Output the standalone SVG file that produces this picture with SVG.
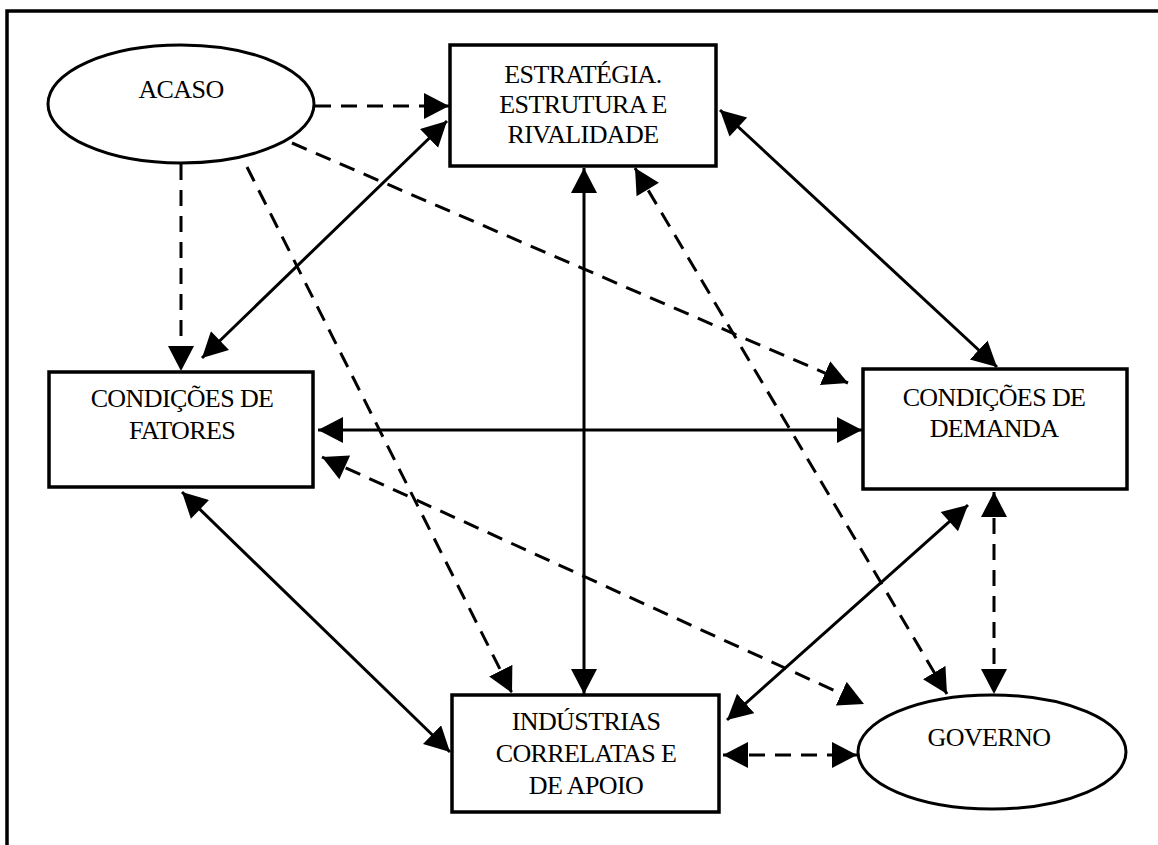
<svg xmlns="http://www.w3.org/2000/svg" width="1158" height="845" viewBox="0 0 1158 845">
<style>
.box{fill:#fff;stroke:#000;stroke-width:3.5}
.ell{fill:#fff;stroke:#000;stroke-width:3}
.t{font-family:"Liberation Serif","Times New Roman",serif;font-size:26px;letter-spacing:-0.6px;fill:#000;text-anchor:middle}
.s{stroke:#000;stroke-width:3;fill:none}
.d{stroke:#000;stroke-width:3;fill:none;stroke-dasharray:16 10}
</style>
<defs>
<marker id="ae" markerUnits="userSpaceOnUse" markerWidth="28" markerHeight="28" refX="25" refY="13" orient="auto">
<path d="M0,0 L25,13 L0,26 Z" fill="#000"/>
</marker>
<marker id="as" markerUnits="userSpaceOnUse" markerWidth="28" markerHeight="28" refX="0" refY="13" orient="auto">
<path d="M25,0 L0,13 L25,26 Z" fill="#000"/>
</marker>
</defs>
<rect width="1158" height="845" fill="#fff"/>
<g id="frame">
<path d="M7,845 L7,11 L1158,11" fill="none" stroke="#000" stroke-width="3.5"/>
</g>
<g id="connectors">
<line class="d" x1="315" y1="106" x2="449" y2="106" marker-end="url(#ae)"/>
<line class="d" x1="181" y1="164" x2="181" y2="371" marker-end="url(#ae)"/>
<line class="d" x1="292" y1="143" x2="848" y2="383" marker-end="url(#ae)"/>
<line class="d" x1="247" y1="167" x2="512" y2="693" marker-end="url(#ae)"/>
<line class="s" x1="202" y1="358" x2="447" y2="121" marker-start="url(#as)" marker-end="url(#ae)"/>
<line class="s" x1="720" y1="110" x2="997" y2="367" marker-start="url(#as)" marker-end="url(#ae)"/>
<line class="s" x1="584" y1="168" x2="584" y2="694" marker-start="url(#as)" marker-end="url(#ae)"/>
<line class="d" x1="635" y1="168" x2="947" y2="694" marker-start="url(#as)" marker-end="url(#ae)"/>
<line class="s" x1="318" y1="430" x2="862" y2="430" marker-start="url(#as)" marker-end="url(#ae)"/>
<line class="d" x1="322" y1="457" x2="864" y2="704" marker-start="url(#as)" marker-end="url(#ae)"/>
<line class="d" x1="994" y1="492" x2="994" y2="694" marker-start="url(#as)" marker-end="url(#ae)"/>
<line class="s" x1="968" y1="505" x2="727" y2="720" marker-start="url(#as)" marker-end="url(#ae)"/>
<line class="s" x1="182" y1="492" x2="450" y2="752" marker-start="url(#as)" marker-end="url(#ae)"/>
<line class="d" x1="723" y1="755" x2="857" y2="755" marker-start="url(#as)" marker-end="url(#ae)"/>
</g>
<g id="acaso">
<ellipse class="ell" cx="181" cy="104" rx="133" ry="59"/>
<text class="t" x="181" y="98">ACASO</text>
</g>
<g id="estrategia">
<rect class="box" x="450" y="45" width="266" height="121"/>
<text class="t" x="583" y="83">ESTRATÉGIA.</text>
<text class="t" x="583" y="113">ESTRUTURA E</text>
<text class="t" x="583" y="143">RIVALIDADE</text>
</g>
<g id="fatores">
<rect class="box" x="49" y="372" width="264" height="115"/>
<text class="t" x="182" y="407">CONDIÇÕES DE</text>
<text class="t" x="182" y="439">FATORES</text>
</g>
<g id="demanda">
<rect class="box" x="863" y="369" width="264" height="120"/>
<text class="t" x="994" y="406">CONDIÇÕES DE</text>
<text class="t" x="994" y="437">DEMANDA</text>
</g>
<g id="industrias">
<rect class="box" x="452" y="695" width="267" height="117"/>
<text class="t" x="586" y="730">INDÚSTRIAS</text>
<text class="t" x="586" y="762">CORRELATAS E</text>
<text class="t" x="586" y="794">DE APOIO</text>
</g>
<g id="governo">
<ellipse class="ell" cx="992" cy="752" rx="134" ry="57"/>
<text class="t" x="989" y="746">GOVERNO</text>
</g>
</svg>
